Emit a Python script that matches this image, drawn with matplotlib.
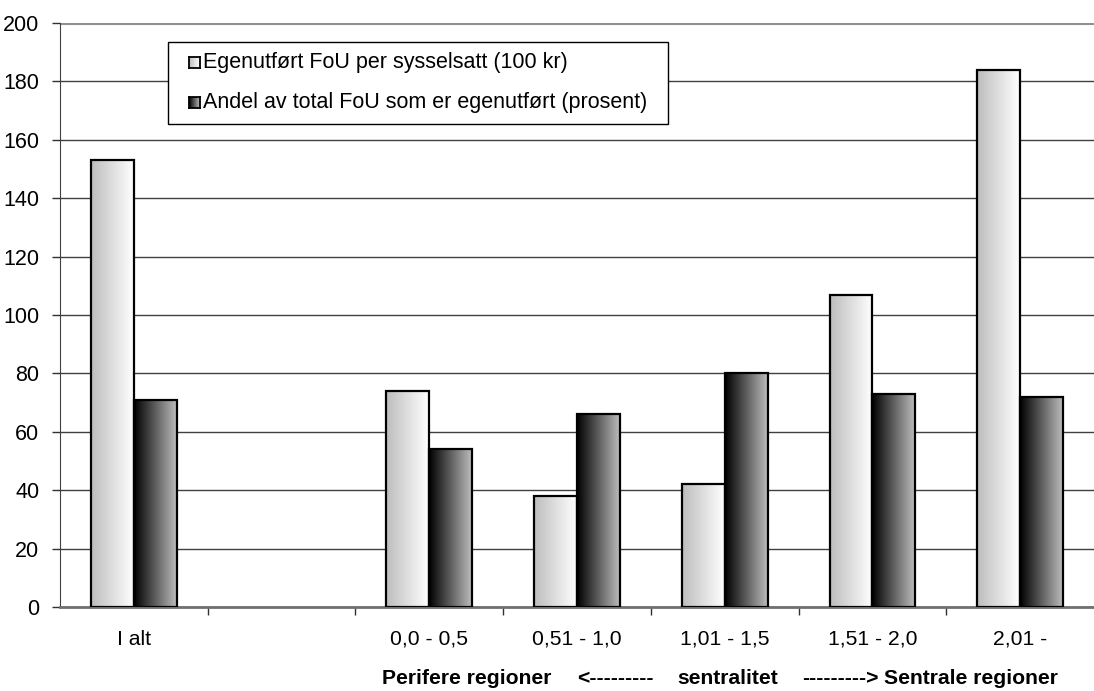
import numpy as np
import matplotlib
matplotlib.use("Agg")
import matplotlib.pyplot as plt
from matplotlib.patches import Rectangle

categories = ["I alt", "", "0,0 - 0,5", "0,51 - 1,0", "1,01 - 1,5", "1,51 - 2,0", "2,01 -"]
fou_per_sysselsatt = [153, np.nan, 74, 38, 42, 107, 184]
andel_egenutfort = [71, np.nan, 54, 66, 80, 73, 72]
series_labels = ["Egenutført FoU per sysselsatt (100 kr)",
                 "Andel av total FoU som er egenutført (prosent)"]
yticks = [0, 20, 40, 60, 80, 100, 120, 140, 160, 180, 200]
axis_note = ["Perifere regioner", "<---------", "sentralitet", "--------->", "Sentrale regioner"]

# gradient stops (left -> right), grey level
light_grad = (0.74, 1.0)
dark_grad = (0.0, 0.74)

plt.rcParams["font.family"] = ["Liberation Sans", "DejaVu Sans"]

W, H = 1094, 691
fig = plt.figure(figsize=(W / 100, H / 100), dpi=100)


def px(x, y):
    # pixel position (from top-left) -> figure fraction
    return x / W, 1 - y / H


ax = fig.add_axes([60 / W, 84 / H, 1034 / W, 584 / H])

x = np.arange(len(categories)) + 0.5
w = 0.29


def gradient_bars(xs, vals, grad):
    grad_img = np.linspace(grad[0], grad[1], 256).reshape(1, -1)
    for xc, v in zip(xs, vals):
        if np.isnan(v):
            continue
        bar = ax.bar(xc, v, width=w, facecolor="none", edgecolor="black",
                     linewidth=1.6, zorder=4)[0]
        im = ax.imshow(grad_img, cmap="gray", vmin=0, vmax=1, aspect="auto",
                       extent=(xc - w / 2, xc + w / 2, 0, v), zorder=3,
                       interpolation="bilinear")
        im.set_clip_path(bar)


gradient_bars(x - w / 2, fou_per_sysselsatt, light_grad)
gradient_bars(x + w / 2, andel_egenutfort, dark_grad)

ax.set_xlim(0, len(categories))
ax.set_ylim(0, 200)
ax.set_yticks(yticks)
ax.set_yticklabels([str(t) for t in yticks], fontsize=15.5)
ax.yaxis.grid(True, color="#404040", linewidth=1.0)
ax.set_axisbelow(True)
ax.axhline(200, color="#909090", linewidth=2.2, zorder=2)

ax.set_xticks(np.arange(1, len(categories)))
ax.set_xticklabels([])
ax.tick_params(axis="x", length=6, width=1, color="#303030", direction="out")
ax.tick_params(axis="y", length=6, width=1, color="#303030", direction="out", pad=9)
for xc, lab in zip(x, categories):
    ax.text(xc, -13.0, lab, ha="center", va="baseline", fontsize=15.2)

for side in ("top", "right"):
    ax.spines[side].set_visible(False)
ax.spines["left"].set_color("#404040")
ax.spines["bottom"].set_color("#707070")
ax.spines["bottom"].set_linewidth(2)

# legend box drawn by hand
lx0, ly0, lx1, ly1 = 168, 42, 668, 124
fig.patches.append(Rectangle(px(lx0, ly1), (lx1 - lx0) / W, (ly1 - ly0) / H,
                             transform=fig.transFigure, facecolor="white",
                             edgecolor="black", linewidth=1.0, zorder=5))
for row_y, label, grad in zip([62.5, 102.5], series_labels, [light_grad, dark_grad]):
    sq = fig.add_axes([189 / W, 1 - (row_y + 5.5) / H, 11 / W, 11 / H], zorder=6)
    sq.imshow(np.linspace(grad[0], grad[1], 64).reshape(1, -1), cmap="gray",
              vmin=0, vmax=1, aspect="auto", interpolation="bilinear")
    sq.set_xticks([])
    sq.set_yticks([])
    for sp in sq.spines.values():
        sp.set_linewidth(1.3)
    fig.text(*px(203, row_y), label, ha="left", va="center", fontsize=15.5, zorder=7)

# centrality axis note along the bottom
note_y = 1 - 684 / H
fig.text(382 / W, note_y, axis_note[0], ha="left", va="baseline", fontsize=15.2, fontweight="bold")
fig.text(577 / W, note_y, axis_note[1], ha="left", va="baseline", fontsize=15.2, fontweight="bold")
fig.text(677 / W, note_y, axis_note[2], ha="left", va="baseline", fontsize=15.2, fontweight="bold")
fig.text(802 / W, note_y, axis_note[3], ha="left", va="baseline", fontsize=15.2, fontweight="bold")
fig.text(1058 / W, note_y, axis_note[4], ha="right", va="baseline", fontsize=15.2, fontweight="bold")

fig.savefig("out.png", dpi=100)
